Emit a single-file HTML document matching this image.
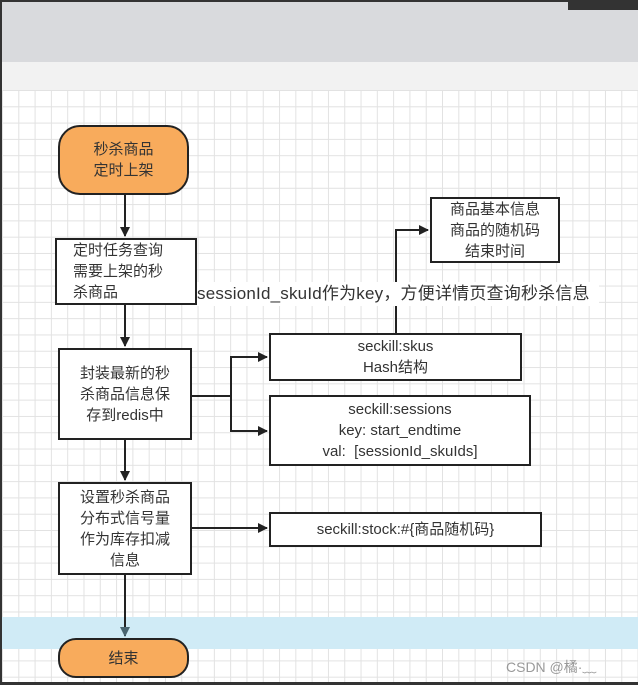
<!DOCTYPE html>
<html><head><meta charset="utf-8"><style>
body{margin:0;width:638px;height:685px;overflow:hidden;background:#333;font-family:"Liberation Sans","Noto Sans CJK SC",sans-serif;}
#w{position:absolute;left:2px;top:2px;width:636px;height:680px;background:#fff;overflow:hidden}
#g1{position:absolute;left:0;top:0;width:636px;height:60px;background:#d9dadd}
#g2{position:absolute;left:0;top:60px;width:636px;height:28px;background:#f2f2f2}
#grid{position:absolute;left:0;top:88px;width:636px;height:600px;background-image:linear-gradient(#e2e2e2 1px,transparent 1px),linear-gradient(90deg,#e2e2e2 1px,transparent 1px);background-size:16.3px 16.3px}
#tr{position:absolute;left:568px;top:0;width:70px;height:10px;background:#333}
.n{position:absolute;box-sizing:border-box;border:2px solid #222;background:#fff;display:flex;align-items:center;justify-content:center;text-align:center;font-size:15px;line-height:21px;color:#333}
.o{background:#f8ab5c;border-radius:18px}
</style></head><body>
<div id="w"><div id="g1"></div><div id="g2"></div><div id="grid"></div>
<div style="position:absolute;left:0;top:615px;width:636px;height:32px;background:#d0ebf6"></div>
</div>
<div id="tr"></div>
<svg style="position:absolute;left:0;top:0" width="638" height="685">
<defs><marker id="a" markerWidth="10" markerHeight="10" refX="9" refY="5" orient="auto" markerUnits="userSpaceOnUse"><path d="M0,0L10,5L0,10z" fill="#222"/></marker>
<marker id="b" markerWidth="10" markerHeight="14" refX="9" refY="5" orient="auto" markerUnits="userSpaceOnUse"><path d="M0,0L10,5L0,10z" fill="#4a6570"/></marker></defs>
<g stroke="#222" stroke-width="2" fill="none">
<line x1="125" y1="195" x2="125" y2="236" marker-end="url(#a)"/>
<line x1="125" y1="305" x2="125" y2="346" marker-end="url(#a)"/>
<line x1="125" y1="440" x2="125" y2="480" marker-end="url(#a)"/>
<line x1="125" y1="575" x2="125" y2="636" marker-end="url(#b)"/>
<polyline points="192,396 231,396"/>
<polyline points="231,431 231,357 267,357" marker-end="url(#a)"/>
<polyline points="231,396 231,431 267,431" marker-end="url(#a)"/>
<polyline points="192,528 267,528" marker-end="url(#a)"/>
<polyline points="396,333 396,230 428,230" marker-end="url(#a)"/>
</g></svg>
<div class="n o" style="left:58px;top:125px;width:131px;height:70px;border-radius:22px">秒杀商品<br>定时上架</div>
<div class="n" style="left:55px;top:238px;width:142px;height:67px;justify-content:flex-start;text-align:left;padding-left:16px">定时任务查询<br>需要上架的秒<br>杀商品</div>
<div class="n" style="left:58px;top:348px;width:134px;height:92px">封装最新的秒<br>杀商品信息保<br>存到redis中</div>
<div class="n" style="left:58px;top:482px;width:134px;height:93px">设置秒杀商品<br>分布式信号量<br>作为库存扣减<br>信息</div>
<div class="n o" style="left:58px;top:638px;width:131px;height:40px">结束</div>
<div class="n" style="left:430px;top:197px;width:130px;height:66px;line-height:21px">商品基本信息<br>商品的随机码<br>结束时间</div>
<div style="position:absolute;left:197px;top:282px;width:402px;height:24px;background:#fff;font-size:17px;line-height:24px;color:#333;white-space:nowrap;letter-spacing:0.2px">sessionId_skuId作为key，方便详情页查询秒杀信息</div>
<div class="n" style="left:269px;top:333px;width:253px;height:48px">seckill:skus<br>Hash结构</div>
<div class="n" style="left:269px;top:395px;width:262px;height:71px;line-height:21px">seckill:sessions<br>key: start_endtime<br>val:&nbsp; [sessionId_skuIds]</div>
<div class="n" style="left:269px;top:512px;width:273px;height:35px">seckill:stock:#{商品随机码}</div>
<div style="position:absolute;left:506px;top:657px;font-size:14px;color:#999">CSDN @橘·﹏</div>
</body></html>
